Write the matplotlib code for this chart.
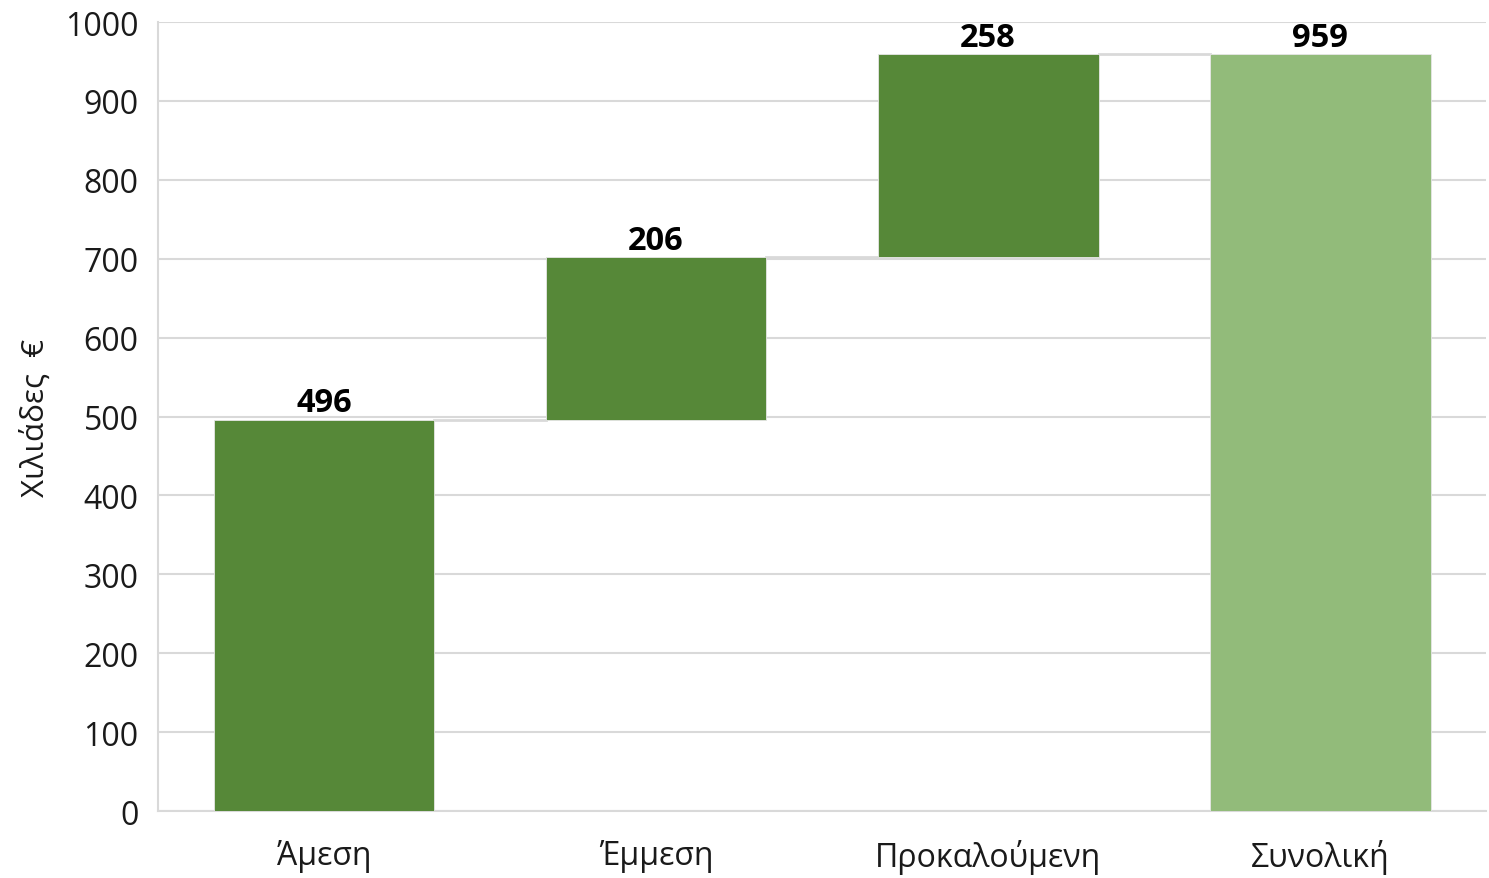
import numpy as np
import matplotlib.pyplot as plt

plt.rcParams['font.family'] = ['Open Sans', 'DejaVu Sans']

# Data
categories = ["Άμεση", "Έμμεση", "Προκαλούμενη", "Συνολική"]
steps = [496, 206, 258]
total = 959
labels = ["496", "206", "258", "959"]

# waterfall bottoms/heights
bottoms = [0, steps[0], steps[0] + steps[1], 0]
heights = [steps[0], steps[1], total - (steps[0] + steps[1]), total]
colors = ["#568838", "#568838", "#568838", "#92BB7A"]

fig = plt.figure(figsize=(14.89, 8.79), dpi=100)
ax = fig.add_axes([0.1061, 0.0762, 0.892, 0.8976])

x = np.arange(len(categories))
width = 0.665
ax.bar(x, heights, bottom=bottoms, width=width, color=colors, zorder=3,
       edgecolor="#e6e6e6", linewidth=0.6)

# connector lines between consecutive bars
tops = [b + h for b, h in zip(bottoms, heights)]
for i in range(len(categories) - 1):
    ax.plot([x[i] + width / 2, x[i + 1] - width / 2], [tops[i], tops[i]],
            color="#d9d9d9", linewidth=2, zorder=2)

# value labels
for xi, t, lab in zip(x, tops, labels):
    ax.text(xi, t + 0.5, lab, ha="center", va="bottom", fontsize=23.5,
            fontweight="bold", color="black", zorder=4)

ax.set_xlim(-0.5, 3.5)
ax.set_ylim(0, 1000)
ax.set_yticks(np.arange(0, 1001, 100))
ax.set_xticks(x)
ax.set_xticklabels(categories)
ax.tick_params(axis="both", length=0, labelsize=23, colors="#1a1a1a")
ax.tick_params(axis="x", pad=20)
ax.tick_params(axis="y", pad=14)

ax.grid(axis="y", color="#d9d9d9", linewidth=1.5, zorder=0)
ax.set_axisbelow(True)
for side in ["top", "right"]:
    ax.spines[side].set_visible(False)
for side in ["left", "bottom"]:
    ax.spines[side].set_color("#d9d9d9")
    ax.spines[side].set_linewidth(1.5)

ax.set_ylabel("Χιλιάδες  €", fontsize=22.5, color="#1a1a1a", labelpad=10)

fig.savefig("out.png", dpi=100)
